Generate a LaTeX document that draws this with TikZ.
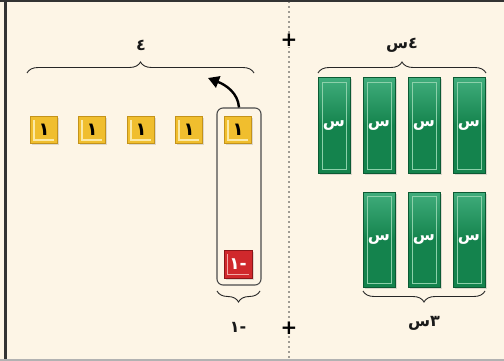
\documentclass[tikz,border=0pt]{standalone}
\usepackage{fontspec}
\TeXXeTstate=1
\newfontfamily\arabicfont[Script=Arabic]{DejaVu Sans}
\newfontfamily\plusfont{DejaVu Sans}
\usetikzlibrary{decorations.pathreplacing,arrows.meta,shadows}
\definecolor{bgc}{HTML}{FDF5E6}
\definecolor{framec}{HTML}{333333}
\definecolor{yfill}{HTML}{F0BE2E}
\definecolor{yborder}{HTML}{C4931A}
\definecolor{ylight}{HTML}{FBE9A6}
\definecolor{rfill}{HTML}{D0282C}
\definecolor{rborder}{HTML}{8C1518}
\definecolor{rlight}{HTML}{F3A9A6}
\definecolor{gfill}{HTML}{14834D}
\definecolor{gtop}{HTML}{40AD7C}
\definecolor{gborder}{HTML}{0B5A33}
\definecolor{glight}{HTML}{8CD0AA}
\tikzset{
  ytile/.style={draw=yborder, fill=yfill, line width=0.8pt, minimum size=27pt, inner sep=0pt,
    drop shadow={opacity=0.25, shadow xshift=1.5pt, shadow yshift=-1.5pt},
    font=\arabicfont\bfseries\fontsize{18}{18}\selectfont, text=black,
    path picture={\draw[ylight, line width=1.2pt]
      ([xshift=3.5pt,yshift=-3.5pt]path picture bounding box.north west) --
      ([xshift=3.5pt,yshift=3.5pt]path picture bounding box.south west) --
      ([xshift=-3.5pt,yshift=3.5pt]path picture bounding box.south east);}},
  rtile/.style={draw=rborder, fill=rfill, line width=0.8pt, minimum size=28pt, inner sep=0pt,
    drop shadow={opacity=0.25, shadow xshift=1.5pt, shadow yshift=-1.5pt},
    font=\arabicfont\bfseries\fontsize{17}{17}\selectfont, text=white,
    path picture={\draw[rlight, line width=1.2pt]
      ([xshift=3.5pt,yshift=-3.5pt]path picture bounding box.north west) --
      ([xshift=3.5pt,yshift=3.5pt]path picture bounding box.south west) --
      ([xshift=-3.5pt,yshift=3.5pt]path picture bounding box.south east);}},
  gtile/.style={draw=gborder, line width=1pt, minimum width=32pt, minimum height=95pt, inner sep=0pt,
    top color=gtop, bottom color=gfill, middle color=gfill,
    drop shadow={opacity=0.25, shadow xshift=1.5pt, shadow yshift=-1.5pt},
    font=\arabicfont\bfseries\fontsize{16}{16}\selectfont, text=white,
    path picture={\draw[glight, line width=0.8pt]
      ([xshift=4pt,yshift=-4pt]path picture bounding box.north west) rectangle
      ([xshift=-4pt,yshift=4pt]path picture bounding box.south east);}},
  bracestyle/.style={draw=black!85, line width=0.9pt, decorate, decoration={brace, amplitude=11pt}},
  mbracestyle/.style={draw=black!85, line width=0.9pt, decorate, decoration={brace, amplitude=11pt, mirror}},
  lbl/.style={font=\arabicfont\bfseries\fontsize{16}{16}\selectfont, text=black!90, inner sep=1pt},
  plussign/.style={font=\plusfont\bfseries\fontsize{20}{20}\selectfont, text=black, fill=bgc, inner sep=0.5pt},
  groupbox/.style={draw=black!70, line width=1.1pt, rounded corners=6pt, minimum width=44pt, minimum height=177pt, inner sep=0pt},
  movearrow/.style={line width=2.4pt, black, -{Triangle[length=11pt,width=12pt]}},
  divider/.style={draw=black!75, line width=1.6pt, line cap=round, dash pattern=on 0pt off 5pt}
}
\begin{document}
\begin{tikzpicture}[x=1pt,y=-1pt]
\useasboundingbox (0,0) rectangle (504,361);
\fill[bgc] (0,0) rectangle (504,361);
\fill[framec] (0,0) rectangle (504,2);
\fill[framec] (4,0) rectangle (6.5,361);
\fill[black!30] (0,359) rectangle (504,361);
% divider
\coordinate (dtop) at (289,2);
\coordinate (dbot) at (289,361);
\draw[divider] (dtop) -- (dbot);
\node[plussign] (p1) at (289,40) {+};
\node[plussign] (p2) at (289,328) {+};
% yellow unit tiles
\node[ytile] (y1) at (44,130) {١};
\node[ytile] (y2) at (92,130) {١};
\node[ytile] (y3) at (141,130) {١};
\node[ytile] (y4) at (189,130) {١};
\node[ytile] (y5) at (238,130) {١};
% red tile
\node[rtile] (r1) at (238,264) {\beginR -١\endR};
% group box
\node[groupbox] (box) at (239,196.5) {};
% arrow
\coordinate (atip) at (208,78);
\draw[movearrow] (box.north) .. controls (238,93) and (226,85) .. (atip);
% green tiles
\node[gtile] (g1) at (334,125.5) {س};
\node[gtile] (g2) at (379,125.5) {س};
\node[gtile] (g3) at (424,125.5) {س};
\node[gtile] (g4) at (469,125.5) {س};
\node[gtile] (g5) at (379,239.5) {س};
\node[gtile] (g6) at (424,239.5) {س};
\node[gtile] (g7) at (469,239.5) {س};
% braces
\coordinate (b1a) at (27,73);
\coordinate (b1b) at (254,73);
\draw[bracestyle] (b1a) -- (b1b);
\node[lbl] (l1) at (141,45) {٤};
\coordinate (b2a) at (318,73);
\coordinate (b2b) at (486,73);
\draw[bracestyle] (b2a) -- (b2b);
\node[lbl] (l2) at (402,45) {\beginR ٤س\endR};
\coordinate (b3a) at (217,291);
\coordinate (b3b) at (260,291);
\draw[mbracestyle] (b3a) -- (b3b);
\node[lbl] (l3) at (238,327) {\beginR -١\endR};
\coordinate (b4a) at (363,291);
\coordinate (b4b) at (485,291);
\draw[mbracestyle] (b4a) -- (b4b);
\node[lbl] (l4) at (424,323) {\beginR ٣س\endR};
\end{tikzpicture}
\end{document}
